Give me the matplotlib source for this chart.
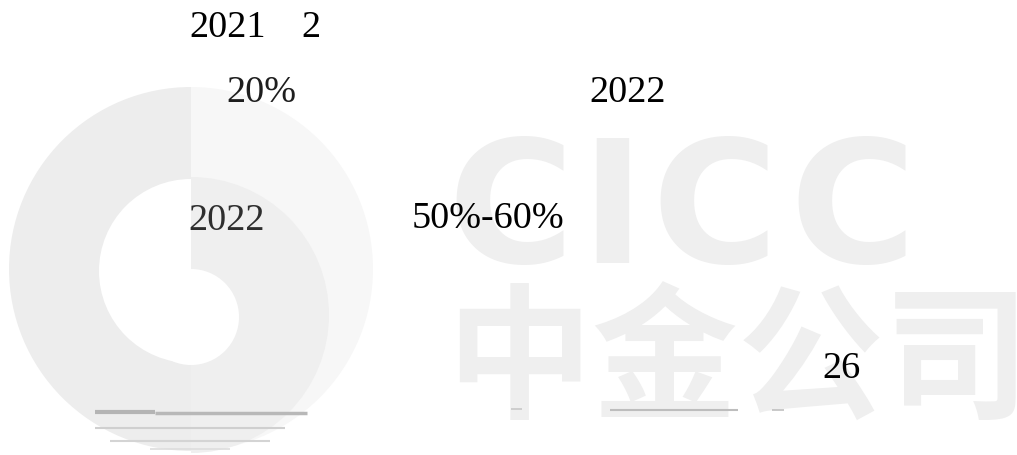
import matplotlib.pyplot as plt
from matplotlib.patches import Wedge, Circle

# Page fragment: scattered figures over a faint CICC watermark
W, H = 1017, 456

# text fragments (left x, baseline y, colour)
labels = ["2021", "2", "20%", "2022", "2022", "50%-60%", "26"]
label_x = [189, 301, 226, 589, 188, 412, 822]
label_y = [37, 37, 102, 102, 230, 228, 378]
label_colors = ["#000000", "#000000", "#1e1e1e", "#000000", "#2e2e2e", "#000000", "#000000"]

# watermark latin letters, placed one by one (centre x)
logo_letters = ["C", "I", "C", "C"]
logo_letter_x = [511, 612, 715, 853]
logo_letter_base = 263
logo_letter_size = 124

# watermark chinese name
cn_word = "中金公司"
cn_x = 446
cn_base = 408
cn_size = 105

# logo discs: (centre x, centre y, radius, theta1, theta2, colour)
logo_parts = [
    (191, 270, 182, 90, 270, "#ededed"),
    (191, 270, 182, -90, 90, "#f7f7f7"),
    (191, 316, 138, -90, 90, "#efefef"),
    (191, 272, 92, 90, 270, "#ffffff"),
    (191, 318, 48, 0, 360, "#ffffff"),
]

# grey scan residue lines near the bottom: (x0, x1, y, colour, width)
residue = [
    (95, 155, 413, "#b4b4b4", 3.0),
    (155, 307, 414, "#b8b8b8", 2.5),
    (95, 285, 429, "#cfcfcf", 1.5),
    (110, 270, 442, "#d4d4d4", 1.5),
    (150, 230, 450, "#dddddd", 1.2),
    (511, 522, 410, "#c8c8c8", 1.2),
    (610, 738, 411, "#bdbdbd", 1.5),
    (772, 784, 411, "#c0c0c0", 1.2),
]

fig = plt.figure(figsize=(W / 100, H / 100), dpi=100)
ax = fig.add_axes([0, 0, 1, 1])
ax.set_xlim(0, W)
ax.set_ylim(H, 0)
ax.axis("off")

for cx, cy, r, t1, t2, col in logo_parts:
    if t2 - t1 >= 360:
        ax.add_patch(Circle((cx, cy), r, color=col, lw=0, zorder=1))
    else:
        ax.add_patch(Wedge((cx, cy), r, t1, t2, color=col, lw=0, zorder=1))

for ch, x in zip(logo_letters, logo_letter_x):
    ax.text(x, logo_letter_base, ch, family="DejaVu Sans", fontweight="bold",
            fontsize=logo_letter_size, color="#efefef", ha="center", va="baseline", zorder=2)

ax.text(cn_x, cn_base, cn_word, family="Noto Sans CJK SC", fontweight="bold",
        fontsize=cn_size, color="#efefef", ha="left", va="baseline", zorder=2)

for x0, x1, y, col, lw in residue:
    ax.plot([x0, x1], [y, y], color=col, lw=lw, solid_capstyle="butt", zorder=3)

for txt, x, y, col in zip(labels, label_x, label_y, label_colors):
    ax.text(x, y, txt, family="Liberation Serif", fontsize=27.5,
            color=col, ha="left", va="baseline", zorder=4)

fig.savefig("out.png", dpi=100, facecolor="white")
